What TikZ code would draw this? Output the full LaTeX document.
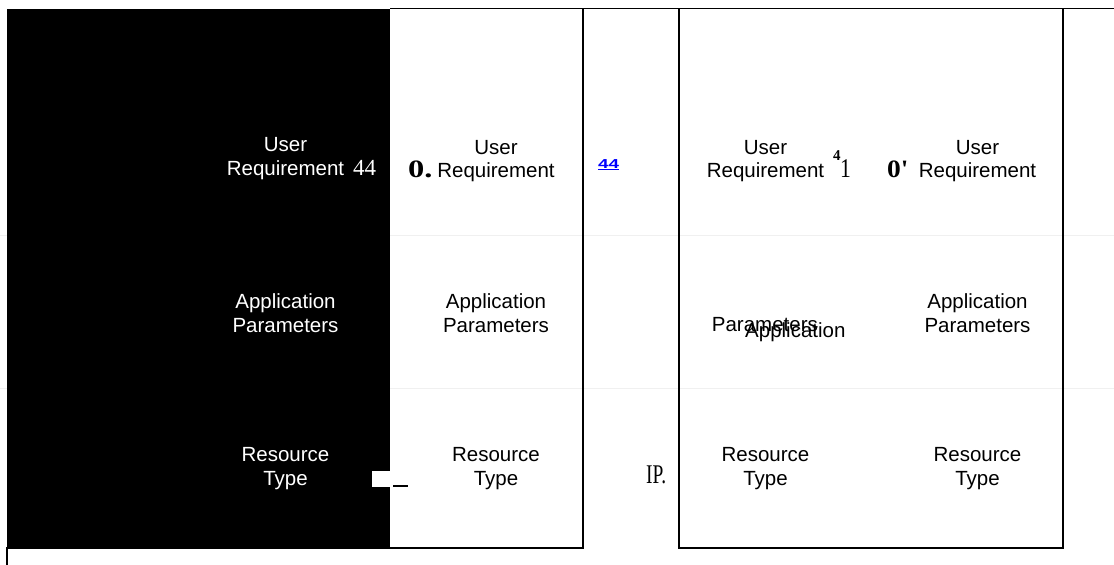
\documentclass[tikz,border=0pt]{standalone}
\usepackage{fontspec}
\setmainfont{Liberation Sans}
\newfontfamily\serifdigits{Liberation Serif}
\begin{document}
\begin{tikzpicture}[x=1pt,y=-1pt,
  frame/.style={line width=1.7pt, black},
  faint/.style={line width=0.8pt, black!6},
  lbl/.style={align=center, inner sep=0pt, anchor=base,
    font=\fontsize{20.5}{23.5}\selectfont},
  lblw/.style={lbl, text=white},
  glyph/.style={inner sep=0pt, anchor=base west},
]
\useasboundingbox (0,0) rectangle (1114,565);

% faint row rules
\draw[faint] (0,235) -- (1114,235);
\draw[faint] (0,388) -- (1114,388);

% dark first column
\fill[black] (7,9) rectangle (390,548.3);

% frames
\draw[frame] (390,8.5) -- (1114,8.5);
\draw[frame] (582.7,8.5) -- (582.7,548.3) -- (7,548.3) -- (7,565);
\draw[frame] (679,8.5) -- (679,548.3) -- (1063.3,548.3) -- (1063.3,8.5);

% small white patch and mark
\fill[white] (372,471) rectangle (391,487);
\draw[line width=1.5pt] (393,486) -- (408,486);

% column 1 (white on black); a label's base is its last line
\node[lblw] (c1r1) at (285.5,175) {User\\Requirement};
\node[lblw] (c1r2) at (285.5,332) {Application\\Parameters};
\node[lblw] (c1r3) at (285.5,485) {Resource\\Type};
\node[glyph, text=white, font=\serifdigits\fontsize{23}{23}\selectfont] (n44a) at (353,175) {44};

% column 2
\node[lbl] (c2r1) at (496,177.5) {User\\Requirement};
\node[lbl] (c2r2) at (496,332) {Application\\Parameters};
\node[lbl] (c2r3) at (496,485) {Resource\\Type};
\node[glyph, font=\serifdigits\bfseries\fontsize{25}{25}\selectfont] (n0a) at (408,177) {\scalebox{1.3}[1]{0.}};

% between the boxes
\node[glyph, text={rgb,255:red,0;green,0;blue,255}, font=\bfseries\fontsize{13}{13}\selectfont] (n44b) at (598,168) {\underline{\scalebox{1.45}[1]{44}}};
\node[glyph, font=\serifdigits\fontsize{27}{27}\selectfont] (nip) at (646,483) {\scalebox{0.72}[1]{IP.}};

% column 3
\node[lbl] (c3r1) at (765.5,177.5) {User\\Requirement};
\node[glyph, font=\serifdigits\bfseries\fontsize{15}{15}\selectfont] (n4) at (833,160) {4};
\node[glyph, font=\serifdigits\fontsize{27}{27}\selectfont] (n1) at (840,177) {\scalebox{0.8}[1]{1}};
\node[glyph, font=\fontsize{20.5}{20.5}\selectfont] (c3r2a) at (711.7,331.7) {Parameters};
\node[glyph, font=\fontsize{20.5}{20.5}\selectfont] (c3r2b) at (745,337) {Application};
\node[lbl] (c3r3) at (765.5,485) {Resource\\Type};

% column 4
\node[glyph, font=\serifdigits\bfseries\fontsize{25}{25}\selectfont] (n0b) at (887,177) {\scalebox{1.1}[1]{0'}};
\node[lbl] (c4r1) at (977.5,177.5) {User\\Requirement};
\node[lbl] (c4r2) at (977.5,332) {Application\\Parameters};
\node[lbl] (c4r3) at (977.5,485) {Resource\\Type};
\end{tikzpicture}
\end{document}
